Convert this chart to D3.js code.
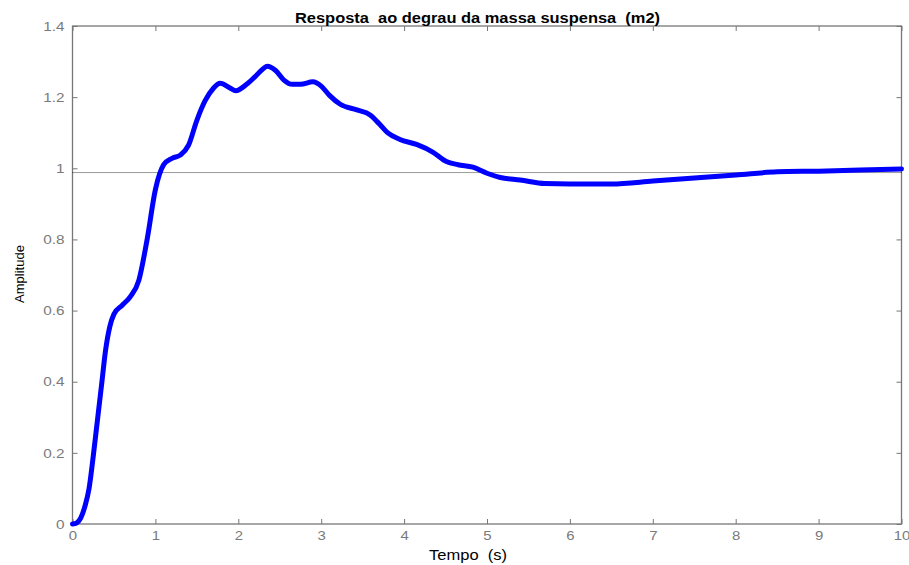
<!DOCTYPE html>
<html>
<head>
<meta charset="utf-8">
<script src="https://cdn.jsdelivr.net/npm/d3@7"></script>
<style>
  body { margin: 0; background: #fff; }
  text { font-family: Arial, "Liberation Sans", sans-serif; white-space: pre; }
</style>
</head>
<body>
<div id="chart"></div>
<script>
// step response samples
const tempo = [0, 0.05, 0.1, 0.15, 0.2, 0.25, 0.3, 0.35, 0.4, 0.45, 0.5, 0.6, 0.7, 0.8, 0.9, 1.0, 1.1, 1.2, 1.3, 1.4,
  1.5, 1.6, 1.7, 1.78, 1.9, 1.97, 2.1, 2.2, 2.3, 2.35, 2.45, 2.55, 2.65, 2.75, 2.9, 3.0, 3.1, 3.23, 3.43, 3.59,
  3.7, 3.8, 3.95, 4.15, 4.35, 4.51, 4.65, 4.83, 5.0, 5.16, 5.4, 5.7, 6.0, 6.5, 7.0, 7.5, 8.0, 8.5, 9.0, 9.5, 10];
const amplitude = [0, 0.003, 0.017, 0.05, 0.1, 0.19, 0.29, 0.39, 0.49, 0.555, 0.59, 0.615, 0.64, 0.685, 0.8, 0.94, 1.01, 1.028, 1.037, 1.065,
  1.135, 1.19, 1.225, 1.239, 1.226, 1.218, 1.236, 1.257, 1.28, 1.287, 1.275, 1.248, 1.236, 1.236, 1.243, 1.231, 1.205, 1.18, 1.164, 1.15,
  1.125, 1.1, 1.081, 1.067, 1.045, 1.019, 1.01, 1.003, 0.986, 0.974, 0.967, 0.957, 0.956, 0.956, 0.964, 0.973, 0.981, 0.99, 0.992, 0.995, 0.998];
const valorFinal = 0.988;
const xTicks = [0, 1, 2, 3, 4, 5, 6, 7, 8, 9, 10];
const yTicks = [0, 0.2, 0.4, 0.6, 0.8, 1, 1.2, 1.4];

const width = 909, height = 565;
const margin = {top: 26, right: 7.5, bottom: 41, left: 72.5};

const svg = d3.select('#chart').append('svg')
    .attr('width', width)
    .attr('height', height);

const x = d3.scaleLinear().domain([0, 10]).range([margin.left, width - margin.right]);
const y = d3.scaleLinear().domain([0, 1.4]).range([height - margin.bottom, margin.top]);

const axisColor = '#777';
const labelColor = '#7a7a7a';
const tickLen = 5;

// the picture is a bit stretched sideways, widen the texts
function stretch(sel, k) {
  sel.each(function() {
    const w = this.getComputedTextLength();
    d3.select(this).attr('textLength', w * k).attr('lengthAdjust', 'spacingAndGlyphs');
  });
}

// bottom axis
svg.append('g')
  .attr('transform', 'translate(0,' + y(0) + ')')
  .call(d3.axisBottom(x).tickValues(xTicks).tickSize(-tickLen).tickPadding(7).tickFormat(d => String(d)))
  .call(g => g.select('.domain').remove())
  .call(g => g.selectAll('line').attr('stroke', axisColor))
  .call(g => g.selectAll('text').attr('fill', labelColor).style('font-size', '13px').call(stretch, 1.15));

// top ticks
svg.append('g')
  .attr('transform', 'translate(0,' + y(1.4) + ')')
  .call(d3.axisTop(x).tickValues(xTicks).tickSize(-tickLen).tickFormat(''))
  .call(g => g.select('.domain').remove())
  .call(g => g.selectAll('line').attr('stroke', axisColor));

// left axis
svg.append('g')
  .attr('transform', 'translate(' + x(0) + ',0)')
  .call(d3.axisLeft(y).tickValues(yTicks).tickSize(-tickLen).tickPadding(8).tickFormat(d => String(d)))
  .call(g => g.select('.domain').remove())
  .call(g => g.selectAll('line').attr('stroke', axisColor))
  .call(g => g.selectAll('text').attr('fill', labelColor).style('font-size', '13px').call(stretch, 1.18));

// right ticks
svg.append('g')
  .attr('transform', 'translate(' + x(10) + ',0)')
  .call(d3.axisRight(y).tickValues(yTicks).tickSize(-tickLen).tickFormat(''))
  .call(g => g.select('.domain').remove())
  .call(g => g.selectAll('line').attr('stroke', axisColor));

// box
svg.append('rect')
  .attr('x', x(0))
  .attr('y', y(1.4))
  .attr('width', x(10) - x(0))
  .attr('height', y(0) - y(1.4))
  .attr('fill', 'none')
  .attr('stroke', axisColor)
  .attr('stroke-width', 1.3);

// final value line
svg.append('line')
  .attr('x1', x(0)).attr('x2', x(10))
  .attr('y1', y(valorFinal)).attr('y2', y(valorFinal))
  .attr('stroke', '#000')
  .attr('stroke-width', 0.8)
  .attr('stroke-dasharray', '1,1');

// response curve
const line = d3.line()
  .x((d, i) => x(tempo[i]))
  .y(d => y(d))
  .curve(d3.curveMonotoneX);

svg.append('path')
  .datum(amplitude)
  .attr('d', line)
  .attr('fill', 'none')
  .attr('stroke', '#0000ff')
  .attr('stroke-width', 5)
  .attr('stroke-linejoin', 'round')
  .attr('stroke-linecap', 'round');

// title and labels
svg.append('text')
  .attr('x', 477.5)
  .attr('y', 22.5)
  .attr('text-anchor', 'middle')
  .attr('textLength', 365)
  .attr('lengthAdjust', 'spacingAndGlyphs')
  .style('font-size', '14px')
  .style('font-weight', 'bold')
  .attr('fill', '#000')
  .text('Resposta  ao degrau da massa suspensa  (m2)');

svg.append('text')
  .attr('x', 468)
  .attr('y', 560)
  .attr('text-anchor', 'middle')
  .attr('textLength', 78)
  .attr('lengthAdjust', 'spacingAndGlyphs')
  .style('font-size', '14px')
  .attr('fill', '#000')
  .text('Tempo  (s)');

svg.append('text')
  .attr('transform', 'translate(24,274) rotate(-90)')
  .attr('text-anchor', 'middle')
  .style('font-size', '13px')
  .attr('fill', '#000')
  .text('Amplitude');
</script>
</body>
</html>
